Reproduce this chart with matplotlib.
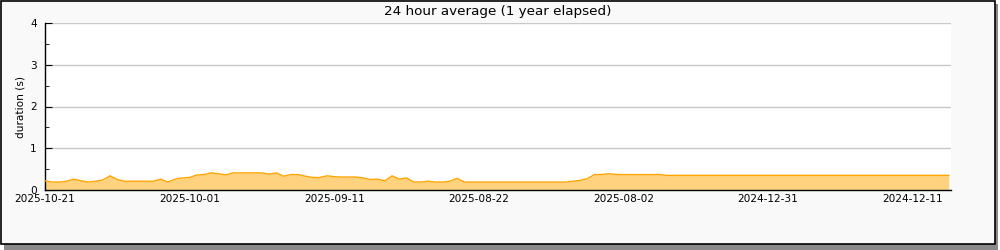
import matplotlib
matplotlib.use("Agg")
import matplotlib.pyplot as plt
from matplotlib.patches import Rectangle
import numpy as np

title = "24 hour average (1 year elapsed)"
ylabel = "duration (s)"
tick_labels = ["2025-10-21", "2025-10-01", "2025-09-11", "2025-08-22",
               "2025-08-02", "2024-12-31", "2024-12-11"]
durations = [
    0.22, 0.19, 0.19, 0.21, 0.26, 0.22, 0.19, 0.21, 0.24, 0.34,
    0.25, 0.21, 0.21, 0.21, 0.21, 0.21, 0.26, 0.19, 0.26, 0.29,
    0.30, 0.36, 0.37, 0.41, 0.39, 0.36, 0.41, 0.41, 0.41, 0.41,
    0.41, 0.38, 0.41, 0.33, 0.37, 0.37, 0.33, 0.30, 0.30, 0.34,
    0.32, 0.31, 0.31, 0.31, 0.29, 0.25, 0.26, 0.22, 0.34, 0.26,
    0.29, 0.19, 0.19, 0.21, 0.19, 0.19, 0.21, 0.28, 0.19, 0.19,
    0.19, 0.19, 0.19, 0.19, 0.19, 0.19, 0.19, 0.19, 0.19, 0.19,
    0.19, 0.19, 0.19, 0.21, 0.23, 0.27, 0.37, 0.37, 0.39, 0.37,
    0.37, 0.37, 0.37, 0.37, 0.37, 0.37, 0.35, 0.35, 0.35, 0.35,
    0.35, 0.35, 0.35, 0.35, 0.35, 0.35, 0.35, 0.35, 0.35, 0.35,
    0.35, 0.35, 0.35, 0.35, 0.35, 0.35, 0.35, 0.35, 0.35, 0.35,
    0.35, 0.35, 0.35, 0.35, 0.35, 0.35, 0.35, 0.35, 0.35, 0.35,
    0.35, 0.35, 0.35, 0.35, 0.35, 0.35,
]

x = np.arange(len(durations))

fig = plt.figure(figsize=(10, 2.5), dpi=100, facecolor="white")

# frame with shadow
W, H = 1000.0, 250.0
fig.patches.append(Rectangle((4 / W, 0 / H), 994 / W, 246 / H, transform=fig.transFigure,
                             facecolor="#8a8a8a", edgecolor="none", zorder=0))
fig.patches.append(Rectangle((0.5 / W, 6 / H), 994 / W, 243.5 / H, transform=fig.transFigure,
                             facecolor="#f9f9f9", edgecolor="black", linewidth=1.2, zorder=1))

ax = fig.add_axes([45 / W, 1 - 190 / H, 906 / W, 167 / H])
ax.set_zorder(5)
ax.set_facecolor("white")
ax.fill_between(x, durations, 0, color="#ffd280", linewidth=0, zorder=2)
ax.plot(x, durations, color="#ffa500", linewidth=1, zorder=3)

ax.set_xlim(0, 125.3)
ax.set_ylim(0, 4)
ax.set_yticks([0, 1, 2, 3, 4])
ax.set_yticks([0.5, 1.5, 2.5, 3.5], minor=True)
ax.yaxis.grid(True, color="#c8c8c8", linewidth=1)
ax.set_axisbelow(True)

major = np.arange(0, 121, 20)
minor = np.arange(10, 121, 20)
ax.set_xticks(major)
ax.set_xticklabels(tick_labels)
ax.set_xticks(minor, minor=True)

ax.tick_params(axis="both", which="both", direction="in", color="black", labelsize=7.6)
ax.tick_params(axis="y", which="major", length=5, pad=6)
ax.tick_params(axis="y", which="minor", length=3)
ax.tick_params(axis="x", which="both", length=5, pad=3)

for s in ["top", "right"]:
    ax.spines[s].set_visible(False)
for s in ["left", "bottom"]:
    ax.spines[s].set_color("black")
    ax.spines[s].set_linewidth(1)

ax.set_ylabel(ylabel, fontsize=7.6, labelpad=3)
t = fig.text(498 / W, 1 - 11 / H, title, ha="center", va="center", fontsize=9.7)
t.set_zorder(6)

fig.savefig("out.png", dpi=100, facecolor="white")
